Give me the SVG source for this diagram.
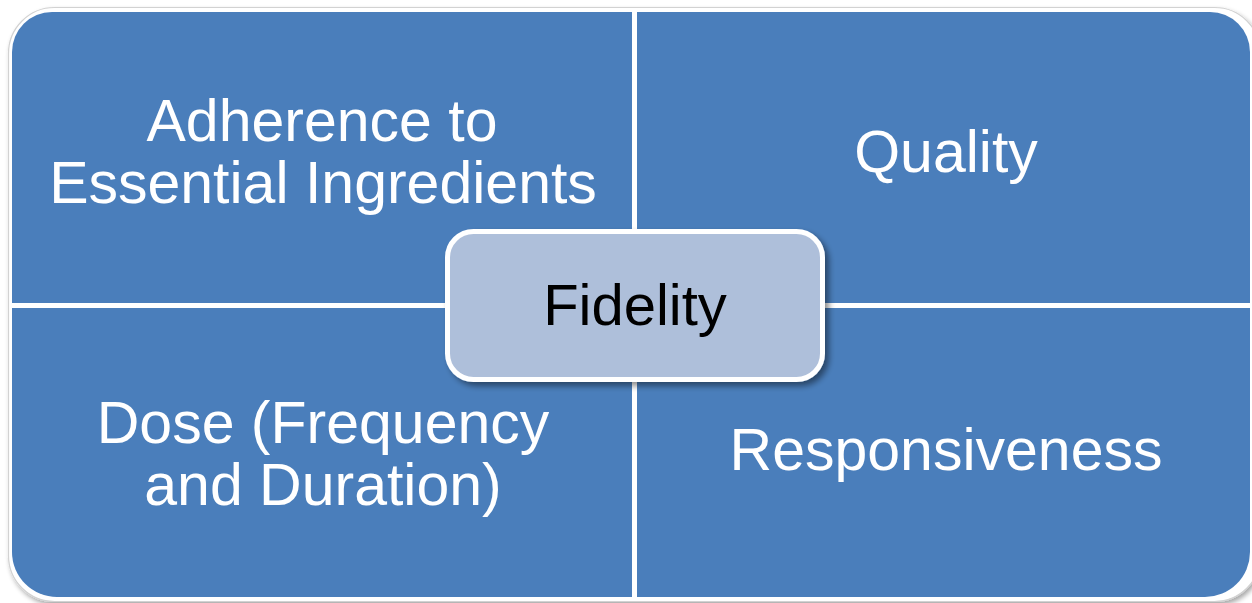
<svg xmlns="http://www.w3.org/2000/svg" width="1252" height="603" viewBox="0 0 1252 603">
  <defs>
    <filter id="outerShadow" x="-5%" y="-5%" width="110%" height="115%">
      <feGaussianBlur in="SourceAlpha" stdDeviation="2.5"/>
      <feOffset dx="2" dy="3" result="b"/>
      <feComponentTransfer><feFuncA type="linear" slope="0.35"/></feComponentTransfer>
      <feMerge><feMergeNode/><feMergeNode in="SourceGraphic"/></feMerge>
    </filter>
    <filter id="boxShadow" x="-10%" y="-15%" width="125%" height="140%">
      <feGaussianBlur in="SourceAlpha" stdDeviation="3"/>
      <feOffset dx="4" dy="4" result="b"/>
      <feComponentTransfer><feFuncA type="linear" slope="0.45"/></feComponentTransfer>
      <feMerge><feMergeNode/><feMergeNode in="SourceGraphic"/></feMerge>
    </filter>
  </defs>
  <style>
    .quad { fill: #4A7EBB; }
    .qtext { font-family: "Liberation Sans", Arial, sans-serif; font-size: 59px; fill: #FFFFFF; text-anchor: middle; }
    .ctext { font-family: "Liberation Sans", Arial, sans-serif; font-size: 58px; fill: #000000; text-anchor: middle; }
  </style>
  <rect width="1252" height="603" fill="#FFFFFF"/>
  <g id="frame" filter="url(#outerShadow)">
    <rect x="8.5" y="7.5" width="1252" height="594" rx="46" fill="#FFFFFF" stroke="#D2D2D2" stroke-width="1.2"/>
  </g>
  <g id="quadrant-adherence">
    <path class="quad" d="M12,303 L12,52 A40,40 0 0 1 52,12 L632,12 L632,303 Z"/>
    <text class="qtext" x="322" y="141">Adherence to</text>
    <text class="qtext" x="323" y="203">Essential Ingredients</text>
  </g>
  <g id="quadrant-quality">
    <path class="quad" d="M637,12 L1210,12 A40,40 0 0 1 1250,52 L1250,303 L637,303 Z"/>
    <text class="qtext" x="946" y="172">Quality</text>
  </g>
  <g id="quadrant-dose">
    <path class="quad" d="M12,308 L632,308 L632,597 L57,597 A45,45 0 0 1 12,552 Z"/>
    <text class="qtext" x="323" y="443">Dose (Frequency</text>
    <text class="qtext" x="323" y="505">and Duration)</text>
  </g>
  <g id="quadrant-responsiveness">
    <path class="quad" d="M637,308 L1250,308 L1250,552 A45,45 0 0 1 1205,597 L637,597 Z"/>
    <text class="qtext" x="946" y="470">Responsiveness</text>
  </g>
  <g id="connectors"></g>
  <g id="center-fidelity" filter="url(#boxShadow)">
    <rect x="447.5" y="231.5" width="375" height="148" rx="26" fill="#AEBFDA" stroke="#FFFFFF" stroke-width="5"/>
    <text class="ctext" x="635" y="325">Fidelity</text>
  </g>
</svg>
